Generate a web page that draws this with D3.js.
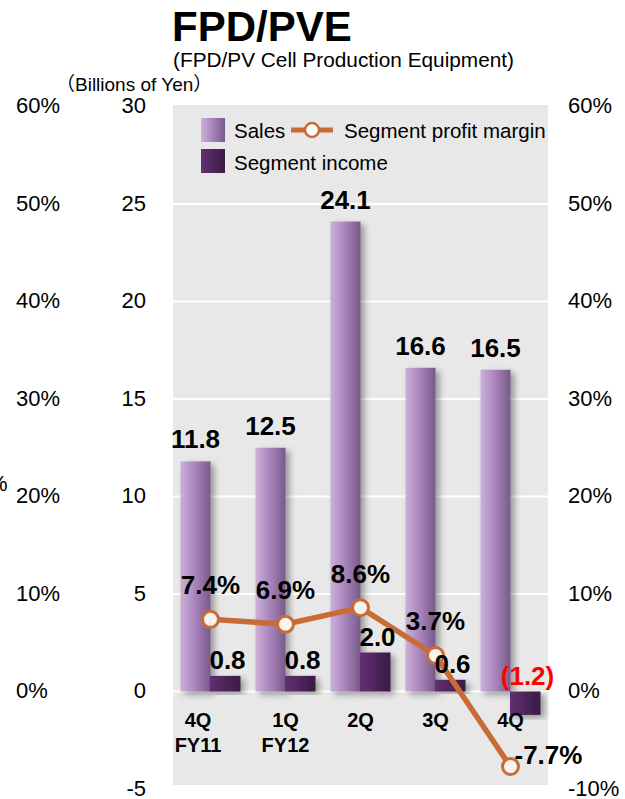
<!DOCTYPE html>
<meta charset="utf-8">
<head>
<style>
  body { margin: 0; background: #ffffff; }
  text { font-family: "Liberation Sans", Arial, "Noto Sans CJK JP", sans-serif; }
</style>
</head>
<script src="https://d3js.org/d3.v7.min.js"></script>

<div id="my_dataviz"></div>
<script>

// chart data
var quarters = ["4Q", "1Q", "2Q", "3Q", "4Q"];
var fiscalYears = ["FY11", "FY12", "", "", ""];
var sales = [11.8, 12.5, 24.1, 16.6, 16.5];
var segmentIncome = [0.8, 0.8, 2.0, 0.6, -1.2];
var profitMargin = [7.4, 6.9, 8.6, 3.7, -7.7];

var salesTicks = [30, 25, 20, 15, 10, 5, 0, -5];
var pctTicksLeft = [60, 50, 40, 30, 20, 10, 0];
var pctTicksRight = [60, 50, 40, 30, 20, 10, 0, -10];

var width  = 625;
var height = 799;
var orange = "#c96b37";

var svg = d3.select("#my_dataviz")
  .append("svg")
    .attr("width", width)
    .attr("height", height);

var defs = svg.append("defs");

var gSales = defs.append("linearGradient").attr("id", "gradSales")
	.attr("x1", "0%").attr("x2", "100%").attr("y1", "0%").attr("y2", "0%");
gSales.append("stop").attr("offset", "0%").attr("stop-color", "#cbb0d8");
gSales.append("stop").attr("offset", "50%").attr("stop-color", "#a883bb");
gSales.append("stop").attr("offset", "100%").attr("stop-color", "#77598a");

var gInc = defs.append("linearGradient").attr("id", "gradIncome")
	.attr("x1", "0%").attr("x2", "100%").attr("y1", "0%").attr("y2", "0%");
gInc.append("stop").attr("offset", "0%").attr("stop-color", "#632f74");
gInc.append("stop").attr("offset", "100%").attr("stop-color", "#3a1a42");

var shadow = defs.append("filter").attr("id", "shadow")
	.attr("x", "-30%").attr("y", "-10%").attr("width", "180%").attr("height", "130%");
shadow.append("feDropShadow").attr("dx", 4).attr("dy", 3)
	.attr("stdDeviation", 3).attr("flood-color", "#000").attr("flood-opacity", 0.35);

// scales
var idx = d3.range(sales.length);
var x = d3.scaleBand().domain(idx).range([173, 548]);
var yL = d3.scaleLinear().domain([-5, 30]).range([789, 106.5]);
var yR = d3.scaleLinear().domain([-10, 60]).range([789, 106.5]);
var barW = 30;

function fmtNum(d) { return String(d); }               // plain hyphen minus
function fmtPct(d) { return String(d) + "%"; }

// titles
svg.append("text").attr("x", 172).attr("y", 41)
	.style("font-size", "42px").style("font-weight", "bold")
	.text("FPD/PVE");
svg.append("text").attr("x", 173).attr("y", 67)
	.style("font-size", "20.8px")
	.text("(FPD/PV Cell Production Equipment)");
svg.append("text").attr("x", 56).attr("y", 91)
	.style("font-size", "19px")
	.text("（Billions of Yen）");
svg.append("text").attr("x", -12).attr("y", 491)
	.style("font-size", "22px")
	.text("%");

// plot background + grid
svg.append("rect")
	.attr("x", x.range()[0]).attr("y", yL(30) - 1.5)
	.attr("width", x.range()[1] - x.range()[0])
	.attr("height", yL(-5) - yL(30) - 2.5)
	.attr("fill", "#e8e8e8");

svg.selectAll(".grid").data([25, 20, 15, 10, 5, 0]).enter().append("line")
	.attr("x1", x.range()[0]).attr("x2", x.range()[1])
	.attr("y1", function(d) { return yL(d); })
	.attr("y2", function(d) { return yL(d); })
	.style("stroke", "#ffffff").style("stroke-width", 2);

// axes
var axSales = svg.append("g").attr("transform", "translate(146,0)")
	.call(d3.axisLeft(yL).tickValues(salesTicks).tickSize(0).tickPadding(0).tickFormat(fmtNum));
var axPctL = svg.append("g").attr("transform", "translate(16,0)")
	.call(d3.axisRight(yR).tickValues(pctTicksLeft).tickSize(0).tickPadding(0).tickFormat(fmtPct));
var axPctR = svg.append("g").attr("transform", "translate(568,0)")
	.call(d3.axisRight(yR).tickValues(pctTicksRight).tickSize(0).tickPadding(0).tickFormat(fmtPct));
[axSales, axPctL, axPctR].forEach(function(a) {
	a.select(".domain").remove();
	a.attr("font-family", null).attr("font-size", null);
	a.selectAll("text").style("font-size", "22px").attr("fill", "#000").attr("dy", "0.28em");
});

// bars
svg.selectAll(".sales").data(idx).enter().append("rect")
	.attr("class", "sales")
	.attr("x", function(i) { return x(i) + x.bandwidth() / 2 - barW; })
	.attr("y", function(i) { return yL(sales[i]); })
	.attr("width", barW)
	.attr("height", function(i) { return yL(0) - yL(sales[i]); })
	.attr("fill", "url(#gradSales)")
	.attr("filter", "url(#shadow)");

svg.selectAll(".income").data(idx).enter().append("rect")
	.attr("class", "income")
	.attr("x", function(i) { return x(i) + x.bandwidth() / 2 - 0.5; })
	.attr("y", function(i) { return yL(Math.max(0, segmentIncome[i])); })
	.attr("width", barW + 0.5)
	.attr("height", function(i) { return Math.abs(yL(0) - yL(segmentIncome[i])); })
	.attr("fill", "url(#gradIncome)")
	.attr("filter", "url(#shadow)");

// sales labels
svg.selectAll(".salesLbl").data(idx).enter().append("text")
	.attr("x", function(i) { return x(i) + x.bandwidth() / 2 - barW / 2; })
	.attr("y", function(i) { return yL(sales[i]) - 13; })
	.attr("text-anchor", "middle")
	.style("font-size", "26px").style("font-weight", "bold")
	.text(function(i) { return sales[i].toFixed(1); });

// category labels (first one sits flush with the plot's left edge)
function catX(i) {
	return i == 0 ? x.range()[0] + 25 : x(i) + x.bandwidth() / 2;
}
var cat = svg.selectAll(".cat").data(idx).enter().append("text")
	.attr("text-anchor", "middle")
	.style("font-size", "20px").style("font-weight", "bold");
cat.append("tspan")
	.attr("x", catX)
	.attr("y", 727)
	.text(function(i) { return quarters[i]; });
cat.append("tspan")
	.attr("x", catX)
	.attr("y", 752)
	.text(function(i) { return fiscalYears[i]; });

// profit margin line
var line = d3.line()
	.x(function(i) { return x(i) + x.bandwidth() / 2; })
	.y(function(i) { return yR(profitMargin[i]); });

svg.append("path").datum(idx)
	.attr("d", line)
	.attr("fill", "none")
	.style("stroke", orange).style("stroke-width", 5.5);

svg.selectAll(".dot").data(idx).enter().append("circle")
	.attr("cx", function(i) { return x(i) + x.bandwidth() / 2; })
	.attr("cy", function(i) { return yR(profitMargin[i]); })
	.attr("r", 8)
	.attr("fill", "#f6f3f1")
	.style("stroke", orange).style("stroke-width", 3);

svg.selectAll(".pctLbl").data(idx).enter().append("text")
	.attr("x", function(i) { return x(i) + x.bandwidth() / 2 + (profitMargin[i] < 0 ? 4 : 0); })
	.attr("y", function(i) { return yR(profitMargin[i]) + (profitMargin[i] < 0 ? -3 : -25); })
	.attr("text-anchor", function(i) { return profitMargin[i] < 0 ? "start" : "middle"; })
	.style("font-size", "26px").style("font-weight", "bold")
	.text(function(i) { return profitMargin[i].toFixed(1) + "%"; });

// income labels on top of the line
svg.selectAll(".incLbl").data(idx).enter().append("text")
	.attr("x", function(i) { return x(i) + x.bandwidth() / 2 + barW / 2 + 2; })
	.attr("y", function(i) { return yL(Math.max(0, segmentIncome[i])) - 7; })
	.attr("text-anchor", "middle")
	.style("font-size", "26px").style("font-weight", "bold")
	.attr("fill", function(i) { return segmentIncome[i] < 0 ? "#ff0000" : "#000"; })
	.text(function(i) {
		var v = segmentIncome[i];
		return v < 0 ? "(" + Math.abs(v).toFixed(1) + ")" : v.toFixed(1);
	});

// legend
svg.append("rect").attr("x", 201).attr("y", 118).attr("width", 24).attr("height", 24)
	.attr("fill", "url(#gradSales)");
svg.append("rect").attr("x", 201).attr("y", 149).attr("width", 24).attr("height", 24)
	.attr("fill", "url(#gradIncome)");
svg.append("text").attr("x", 234).attr("y", 138).style("font-size", "20.5px").text("Sales");
svg.append("text").attr("x", 234).attr("y", 170).style("font-size", "20.5px").text("Segment income");
svg.append("line").attr("x1", 291).attr("x2", 333).attr("y1", 130).attr("y2", 130)
	.style("stroke", orange).style("stroke-width", 5);
svg.append("circle").attr("cx", 312).attr("cy", 130).attr("r", 7)
	.attr("fill", "#ffffff").style("stroke", orange).style("stroke-width", 2.5);
svg.append("text").attr("x", 344).attr("y", 138).style("font-size", "20.5px").text("Segment profit margin");

</script>
